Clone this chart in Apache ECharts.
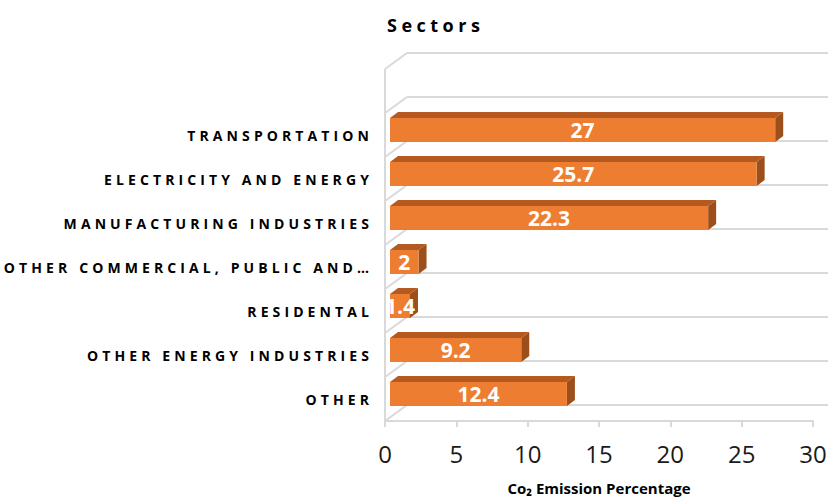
<!DOCTYPE html>
<html>
<head>
<meta charset="utf-8">
<script src="https://cdn.jsdelivr.net/npm/echarts@6/dist/echarts.min.js"></script>
<style>
  html, body { margin: 0; padding: 0; background: #fff; }
  #main { width: 828px; height: 498px; }
  /* Excel-style spaced caps for the category labels and the title */
  #main text[style*="14px"] { letter-spacing: 4.1px; }
  #main text[style*="18px"] { letter-spacing: 4.5px; }
</style>
</head>
<body>
<div id="main"></div>
<script>
const sectors = [
  'TRANSPORTATION',
  'ELECTRICITY AND ENERGY',
  'MANUFACTURING INDUSTRIES',
  'OTHER COMMERCIAL, PUBLIC AND…',
  'RESIDENTAL',
  'OTHER ENERGY INDUSTRIES',
  'OTHER'
];
const emissions = [27, 25.7, 22.3, 2, 1.4, 9.2, 12.4];
const xTicks = [0, 5, 10, 15, 20, 25, 30];
const wallLevels = [0, 1, 2, 3, 4, 5, 6, 7, 8];

const FONT = '"Open Sans", "Noto Sans", sans-serif';
const GRID_COLOR = '#d9d9d9';
const WALL_DX = 22, WALL_DY = -16;   // back wall offset
const BAR_DX = 5, BAR_DY = -5;       // bar offset from the front plane
const DEPTH_DX = 8, DEPTH_DY = -6;   // bar depth
const BAR_H = 24;

const chart = echarts.init(document.getElementById('main'), null, { renderer: 'svg' });

function renderBar(params, api) {
  const cat = api.value(1);
  const start = api.coord([0, cat]);
  const end = api.coord([api.value(0), cat]);
  const x0 = start[0] + BAR_DX;
  const x1 = end[0] + BAR_DX;
  const yTop = end[1] + BAR_DY - BAR_H / 2;
  const yBot = yTop + BAR_H;
  return {
    type: 'group',
    children: [
      {
        type: 'polygon',
        shape: { points: [[x0, yTop], [x1, yTop], [x1 + DEPTH_DX, yTop + DEPTH_DY], [x0 + DEPTH_DX, yTop + DEPTH_DY]] },
        style: { fill: '#b45a21' }
      },
      {
        type: 'polygon',
        shape: { points: [[x1, yTop], [x1 + DEPTH_DX, yTop + DEPTH_DY], [x1 + DEPTH_DX, yBot + DEPTH_DY], [x1, yBot]] },
        style: { fill: '#9d4f1b' }
      },
      {
        type: 'rect',
        shape: { x: x0, y: yTop, width: x1 - x0, height: BAR_H },
        style: { fill: '#ed7d31' }
      },
      {
        type: 'text',
        x: (x0 + x1) / 2,
        y: yTop + BAR_H / 2,
        style: {
          text: String(api.value(0)),
          fill: '#fff',
          font: 'bold 21px ' + FONT,
          align: 'center',
          verticalAlign: 'middle'
        }
      }
    ]
  };
}

function renderWall(params, api) {
  const p = api.coord([0, api.value(1)]);
  const line = { stroke: GRID_COLOR, lineWidth: 2 };
  const children = [{
    type: 'line',
    shape: { x1: p[0] - WALL_DX, y1: p[1] - WALL_DY, x2: p[0], y2: p[1] },
    style: line
  }];
  if (params.dataIndex === 0) {
    const bottom = api.coord([0, wallLevels[0]]);
    const top = api.coord([0, wallLevels[wallLevels.length - 1]]);
    children.push({
      type: 'line',
      shape: { x1: bottom[0] - WALL_DX, y1: bottom[1] - WALL_DY, x2: top[0] - WALL_DX, y2: top[1] - WALL_DY },
      style: line
    });
  }
  return { type: 'group', children: children };
}

const option = {
  animation: false,
  title: {
    text: 'Sectors',
    left: 382,
    top: 11,
    textStyle: { fontSize: 18, fontWeight: 'bold', color: '#000', fontFamily: FONT }
  },
  grid: [
    { left: 407, right: 0, top: 53, bottom: 93, outerBoundsMode: 'none', containLabel: false },
    { left: 385, right: 15, top: 113, bottom: 77, outerBoundsMode: 'none', containLabel: false }
  ],
  xAxis: [
    {
      gridIndex: 0, type: 'value', min: xTicks[0], max: xTicks[xTicks.length - 1],
      show: false
    },
    {
      gridIndex: 1, type: 'value',
      min: xTicks[0], max: xTicks[xTicks.length - 1], interval: xTicks[1] - xTicks[0],
      axisLine: { show: true, lineStyle: { color: GRID_COLOR, width: 2 } },
      axisTick: { show: true, length: 6, lineStyle: { color: GRID_COLOR, width: 2 } },
      splitLine: { show: false },
      axisLabel: { fontSize: 24, color: '#1a1a1a', fontFamily: FONT, margin: 20 },
      name: 'Co₂ Emission Percentage',
      nameLocation: 'middle',
      nameGap: 59,
      nameTextStyle: { fontSize: 15, fontWeight: 'bold', color: '#000', fontFamily: FONT }
    }
  ],
  yAxis: [
    {
      gridIndex: 0, type: 'value',
      min: wallLevels[0], max: wallLevels[wallLevels.length - 1], interval: 1,
      axisLine: { show: false }, axisTick: { show: false }, axisLabel: { show: false },
      splitLine: { show: true, lineStyle: { color: GRID_COLOR, width: 2 } }
    },
    {
      gridIndex: 1, type: 'category', data: sectors, inverse: true,
      axisLine: { show: false }, axisTick: { show: false },
      splitLine: { show: false },
      axisLabel: { fontSize: 14, fontWeight: 'bold', color: '#000', fontFamily: FONT, margin: 12 }
    }
  ],
  series: [
    {
      type: 'custom',
      xAxisIndex: 0, yAxisIndex: 0,
      renderItem: renderWall,
      data: wallLevels.map(k => [0, k]),
      silent: true,
      z: 1
    },
    {
      type: 'custom',
      xAxisIndex: 1, yAxisIndex: 1,
      renderItem: renderBar,
      encode: { x: 0, y: 1 },
      data: emissions.map((v, i) => [v, i]),
      z: 5
    }
  ]
};

chart.setOption(option);
</script>
</body>
</html>
